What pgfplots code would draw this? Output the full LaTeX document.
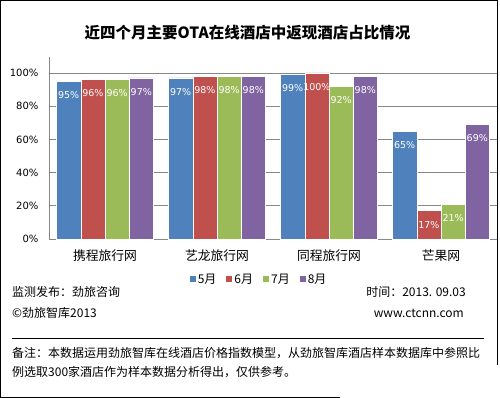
\documentclass[border=0pt]{standalone}
\usepackage{pgfplots}
\pgfplotsset{compat=1.18}
\usepackage{fontspec}
\setmainfont{DejaVu Sans}
\newfontfamily\cjk{Noto Sans CJK SC}
\definecolor{c1}{HTML}{4F81BD}
\definecolor{c2}{HTML}{C0504D}
\definecolor{c3}{HTML}{9BBB59}
\definecolor{c4}{HTML}{8064A2}
\definecolor{gridgray}{HTML}{878787}
\begin{document}
\begin{tikzpicture}[x=1pt,y=1pt]
\path[use as bounding box] (0,0) rectangle (500,-398);
\draw[line width=1.2pt] (0.6,-398) -- (0.6,-0.6) -- (497.8,-0.6) -- (497.8,-365);
\draw[line width=1.2pt] (0,-397.4) -- (340,-397.4);
\node[font=\cjk\bfseries\fontsize{15.5}{18}\selectfont] at (247.5,-33) {近四个月主要OTA在线酒店中返现酒店占比情况};
\begin{axis}[at={(49pt,-239pt)}, anchor=south west, scale only axis,
  width=448pt, height=182pt,
  ybar=0pt, bar width=24.2pt,
  xmin=-0.5, xmax=3.5, ymin=0, ymax=109.6,
  axis x line*=bottom, axis y line*=left,
  axis line style={draw=gridgray, line width=0.8pt},
  xtick={0,1,2,3}, xticklabels={携程旅行网,艺龙旅行网,同程旅行网,芒果网},
  xticklabel style={font=\cjk\fontsize{12.8}{14}\selectfont, yshift=-7pt},
  ytick={0,20,...,100}, yticklabel={\pgfmathprintnumber{\tick}\%},
  yticklabel style={font=\fontsize{10}{12}\selectfont, xshift=-7pt},
  ymajorgrids, grid style={draw=gridgray, line width=0.8pt},
  major tick length=0pt,
  /pgf/number format/assume math mode=true,
  nodes near coords={\pgfmathprintnumber{\pgfplotspointmeta}\%},
  nodes near coords align={below},
  every node near coord/.append style={text=white, font=\fontsize{9.5}{11}\selectfont, inner sep=0pt, yshift=-10pt},
  legend style={at={(0.469,-0.22)}, anchor=center, draw=none, fill=none, legend columns=4,
    font=\cjk\fontsize{12}{14}\selectfont,
    /tikz/every even column/.append style={column sep=8pt}},
  legend image code/.code={\fill[#1,draw=none] (0pt,-3pt) rectangle (6pt,3pt);},
]
\addplot[fill=c1, draw=white, line width=0.6pt] coordinates {(0,95) (1,97) (2,99) (3,65)};
\addplot[fill=c2, draw=white, line width=0.6pt] coordinates {(0,96) (1,98) (2,100) (3,17)};
\addplot[fill=c3, draw=white, line width=0.6pt] coordinates {(0,96) (1,98) (2,92) (3,21)};
\addplot[fill=c4, draw=white, line width=0.6pt] coordinates {(0,97) (1,98) (2,98) (3,69)};
\legend{5月,6月,7月,8月}
\end{axis}
\begin{scope}[every node/.style={font=\cjk\fontsize{12}{14}\selectfont, inner sep=0pt}]
\node[anchor=west] at (12,-292) {监测发布：劲旅咨询};
\node[anchor=east] at (466,-292) {时间：2013. 09.03};
\node[anchor=west] at (12,-313) {©劲旅智库2013};
\node[anchor=east] at (464,-313) {www.ctcnn.com};
\node[anchor=west] at (12,-353) {备注：本数据运用劲旅智库在线酒店价格指数模型，从劲旅智库酒店样本数据库中参照比};
\node[anchor=west] at (12,-372) {例选取300家酒店作为样本数据分析得出，仅供参考。};
\end{scope}
\draw[line width=1pt] (12,-338) -- (484,-338);
\end{tikzpicture}
\end{document}
